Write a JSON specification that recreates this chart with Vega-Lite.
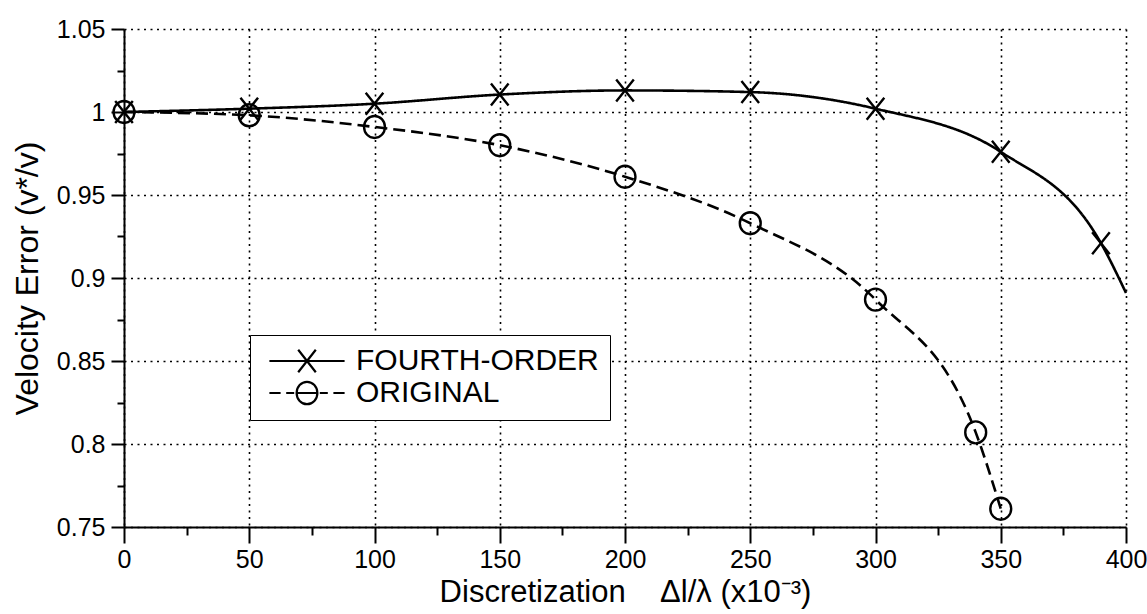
{
  "$schema": "https://vega.github.io/schema/vega-lite/v6.json",
  "width": 1002,
  "height": 498,
  "autosize": "none",
  "padding": {"left": 124, "top": 29, "right": 21, "bottom": 87},
  "background": "white",
  "config": {
    "font": "Liberation Sans",
    "view": {"stroke": null},
    "axis": {
      "labelColor": "black",
      "titleColor": "black",
      "labelFontSize": 25,
      "titleFontSize": 31,
      "titleFontWeight": "normal",
      "domainColor": "black",
      "domainWidth": 2,
      "tickColor": "black",
      "tickWidth": 2,
      "gridColor": "black",
      "gridDash": [2, 4.5],
      "gridWidth": 1.6
    }
  },
  "data": {
    "values": [
      {"series": "FOURTH-ORDER", "x": 0, "y": 1.000},
      {"series": "FOURTH-ORDER", "x": 50, "y": 1.002},
      {"series": "FOURTH-ORDER", "x": 100, "y": 1.005},
      {"series": "FOURTH-ORDER", "x": 150, "y": 1.0105},
      {"series": "FOURTH-ORDER", "x": 200, "y": 1.013},
      {"series": "FOURTH-ORDER", "x": 250, "y": 1.012},
      {"series": "FOURTH-ORDER", "x": 300, "y": 1.002},
      {"series": "FOURTH-ORDER", "x": 350, "y": 0.976},
      {"series": "FOURTH-ORDER", "x": 390, "y": 0.921},
      {"series": "FOURTH-ORDER", "x": 400, "y": 0.891},
      {"series": "ORIGINAL", "x": 0, "y": 1.000},
      {"series": "ORIGINAL", "x": 50, "y": 0.998},
      {"series": "ORIGINAL", "x": 100, "y": 0.991},
      {"series": "ORIGINAL", "x": 150, "y": 0.980},
      {"series": "ORIGINAL", "x": 200, "y": 0.961},
      {"series": "ORIGINAL", "x": 250, "y": 0.933},
      {"series": "ORIGINAL", "x": 300, "y": 0.887},
      {"series": "ORIGINAL", "x": 340, "y": 0.807},
      {"series": "ORIGINAL", "x": 350, "y": 0.761}
    ]
  },
  "layer": [
    {
      "mark": {"type": "line", "interpolate": "monotone", "color": "black", "strokeWidth": 2.6},
      "encoding": {
        "x": {
          "field": "x", "type": "quantitative",
          "scale": {"domain": [0, 400], "nice": false, "zero": false},
          "axis": {
            "values": [0, 25, 50, 75, 100, 125, 150, 175, 200, 225, 250, 275, 300, 325, 350, 375, 400],
            "labelExpr": "datum.value % 50 == 0 ? datum.label : ''",
            "tickSize": {"condition": {"test": "datum.value % 50 == 0", "value": 16}, "value": 8},
            "gridOpacity": {"condition": {"test": "datum.value % 50 == 0", "value": 1}, "value": 0},
            "labelFlush": false,
            "labelOverlap": false,
            "labelPadding": 4,
            "titlePadding": 5,
            "title": "Discretization\u00a0\u00a0\u00a0\u00a0Δl/λ (x10⁻³)"
          }
        },
        "y": {
          "field": "y", "type": "quantitative",
          "scale": {"domain": [0.75, 1.05], "nice": false, "zero": false},
          "axis": {
            "values": [0.75, 0.775, 0.8, 0.825, 0.85, 0.875, 0.9, 0.925, 0.95, 0.975, 1, 1.025, 1.05],
            "labelExpr": "abs(datum.value*20 - round(datum.value*20)) < 0.001 ? format(datum.value, '~g') : ''",
            "tickSize": {"condition": {"test": "abs(datum.value*20 - round(datum.value*20)) < 0.001", "value": 13}, "value": 7},
            "gridOpacity": {"condition": {"test": "abs(datum.value*20 - round(datum.value*20)) < 0.001", "value": 1}, "value": 0},
            "labelOverlap": false,
            "labelPadding": 6,
            "titlePadding": 12,
            "titleFontSize": 32,
            "title": "Velocity Error (v*/v)"
          }
        },
        "detail": {"field": "series", "type": "nominal"},
        "strokeDash": {
          "field": "series", "type": "nominal",
          "scale": {"domain": ["FOURTH-ORDER", "ORIGINAL"], "range": [[1, 0], [12, 6]]},
          "legend": null
        }
      }
    },
    {
      "transform": [{"filter": "datum.series == 'ORIGINAL' || datum.x < 400"}],
      "mark": {"type": "point", "filled": false, "color": "black", "strokeWidth": 2.4, "size": 484, "opacity": 1},
      "encoding": {
        "x": {"field": "x", "type": "quantitative"},
        "y": {"field": "y", "type": "quantitative"},
        "shape": {
          "field": "series", "type": "nominal",
          "scale": {"domain": ["FOURTH-ORDER", "ORIGINAL"], "range": ["M-0.8,-1L0.8,1M-0.8,1L0.8,-1", "M-0.95,0A0.95,1,0,1,0,0.95,0A0.95,1,0,1,0,-0.95,0"]},
          "legend": null
        }
      }
    },
    {
      "transform": [{"filter": "false"}],
      "mark": {"type": "point", "filled": false, "color": "black", "strokeWidth": 2.2, "opacity": 1},
      "encoding": {
        "shape": {
          "field": "series", "type": "nominal",
          "scale": {
            "domain": ["FOURTH-ORDER", "ORIGINAL"],
            "range": [
              "M-4.7,0H4.7M-1.1,-1.4L1.1,1.4M-1.1,1.4L1.1,-1.4",
              "M-4.7,0H-3.3M-2.6,0H-1.6M-1.3,0A1.3,1.4,0,1,0,1.3,0A1.3,1.4,0,1,0,-1.3,0M-1.3,0H1.3M1.6,0H2.6M3.3,0H4.7"
            ]
          },
          "legend": {
            "title": null,
            "orient": "none",
            "legendX": 126,
            "legendY": 306,
            "symbolSize": 256,
            "symbolType": "circle",
            "symbolStrokeColor": "black",
            "symbolFillColor": "transparent",
            "symbolStrokeWidth": 2.2,
            "symbolOpacity": 1,
            "symbolOffset": 31,
            "labelOffset": 34,
            "labelFont": "Liberation Sans",
            "labelFontSize": 30,
            "labelColor": "black",
            "labelLimit": 0,
            "padding": 11,
            "rowPadding": 0,
            "strokeColor": "black",
            "fillColor": "white",
            "encode": {
              "legend": {"update": {"strokeWidth": {"value": 2}}},
              "symbols": {"update": {"opacity": {"value": 1}, "stroke": {"value": "black"}}}
            }
          }
        }
      }
    }
  ],
  "resolve": {"scale": {"shape": "independent"}}
}
